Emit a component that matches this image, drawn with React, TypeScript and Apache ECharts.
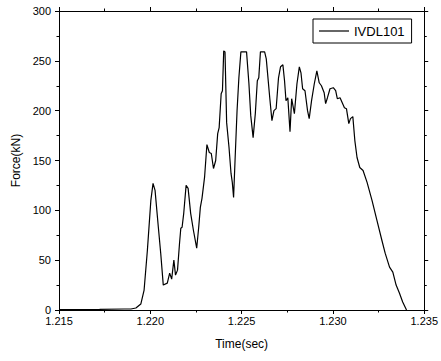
import React, { useEffect, useRef } from "react";
import * as echarts from "echarts";

const seriesName = "IVDL101";
const xTitle = "Time(sec)";
const yTitle = "Force(kN)";

const time = [
  1.215, 1.21722, 1.21858, 1.21894, 1.21921, 1.21948, 1.21966, 1.21984, 1.22003, 1.22015,
  1.22026, 1.22044, 1.22057, 1.22071, 1.22093, 1.22106, 1.22117, 1.22129, 1.22138, 1.22149,
  1.2216, 1.22167, 1.22174, 1.22183, 1.22196, 1.22207, 1.22221, 1.22236, 1.22254, 1.22265,
  1.22274, 1.22283, 1.22297, 1.2231, 1.22323, 1.22334, 1.22346, 1.22358, 1.22369, 1.22377,
  1.22388, 1.22395, 1.22402, 1.22409, 1.22418, 1.22431, 1.22442, 1.22449, 1.22456, 1.22464,
  1.22475, 1.22485, 1.22496, 1.22527, 1.2254, 1.2255, 1.22563, 1.22575, 1.22586, 1.22594,
  1.22603, 1.22626, 1.22635, 1.22654, 1.22666, 1.22677, 1.22689, 1.22702, 1.22713, 1.22726,
  1.22735, 1.22743, 1.22753, 1.22765, 1.22774, 1.22789, 1.22803, 1.22816, 1.22825, 1.22834,
  1.22847, 1.22861, 1.2287, 1.22883, 1.22898, 1.22912, 1.22925, 1.22937, 1.22952, 1.2296,
  1.2297, 1.22984, 1.23002, 1.23015, 1.23024, 1.23039, 1.23051, 1.23063, 1.23074, 1.23087,
  1.23096, 1.23109, 1.2312, 1.23132, 1.23147, 1.23165, 1.23187, 1.23214, 1.23241, 1.23268,
  1.23286, 1.2331, 1.23328, 1.23346, 1.23364, 1.23382, 1.23403,
];

const force = [
  0.5, 0.6, 1, 1, 2, 6, 20, 60, 110, 127,
  120, 83, 57, 25, 27, 37, 31, 50, 35, 40,
  67, 82, 83, 97, 125, 122, 97, 80, 62, 83,
  103, 112, 133, 166, 158, 157, 142, 150, 177, 183,
  217, 220, 260, 259, 188, 163, 137, 128, 113, 150,
  200, 233, 259, 259, 227, 195, 173, 197, 230, 233,
  259, 259, 252, 213, 190, 200, 202, 233, 244, 246,
  230, 210, 213, 179, 212, 197, 227, 244, 238, 222,
  220, 200, 192, 210, 227, 240, 228, 225, 218, 207,
  213, 222, 223, 220, 212, 213, 208, 203, 202, 187,
  192, 194, 170, 153, 143, 140, 128, 110, 90, 70,
  57, 43, 38, 25, 17, 8, 0,
];

const FONT = 'Arial, "Liberation Sans", sans-serif';

export default function App() {
  const ref = useRef<HTMLDivElement>(null);
  useEffect(() => {
    if (!ref.current) return;
    const chart = echarts.init(ref.current, null, { renderer: "svg" });
    const axisLine = { show: true, onZero: false, lineStyle: { color: "#000", width: 1 } };
    const tick = { show: true, inside: false, length: 4, lineStyle: { color: "#000", width: 1 } };
    const minor = { show: true, splitNumber: 2, length: 2.5, lineStyle: { color: "#000", width: 1 } };
    const xBase = { type: "value", min: 1.215, max: 1.235, interval: 0.005, splitLine: { show: false }, axisLine, axisTick: tick, minorTick: minor };
    const yBase = { type: "value", min: 0, max: 300, interval: 50, splitLine: { show: false }, axisLine, axisTick: tick, minorTick: minor };
    chart.setOption({
      animation: false,
      backgroundColor: "#fff",
      textStyle: { fontFamily: FONT },
      grid: { left: 59, right: 13, top: 11, bottom: 51 },
      legend: {
        show: true,
        left: 313,
        top: 19,
        padding: [5, 7, 5, 6],
        itemWidth: 30,
        itemHeight: 1.2,
        borderColor: "#000",
        borderWidth: 1,
        borderRadius: 0,
        textStyle: { color: "#000", fontSize: 13, fontFamily: FONT, lineHeight: 14 },
        data: [{ name: seriesName, icon: "rect" }],
      },
      xAxis: [
        {
          ...xBase,
          position: "bottom",
          name: xTitle,
          nameLocation: "middle",
          nameGap: 28,
          nameTextStyle: { color: "#000", fontSize: 12, fontFamily: FONT },
          axisLabel: { color: "#000", fontSize: 11, margin: 5, fontFamily: FONT, formatter: (v: number) => v.toFixed(3) },
        },
        { ...xBase, position: "top", axisLabel: { show: false } },
      ],
      yAxis: [
        {
          ...yBase,
          position: "left",
          name: yTitle,
          nameLocation: "middle",
          nameGap: 36,
          nameTextStyle: { color: "#000", fontSize: 12, fontFamily: FONT },
          axisLabel: { color: "#000", fontSize: 11, margin: 8, fontFamily: FONT },
        },
        { ...yBase, position: "right", axisLabel: { show: false } },
      ],
      series: [
        {
          name: seriesName,
          type: "line",
          xAxisIndex: 0,
          yAxisIndex: 0,
          symbol: "none",
          showSymbol: false,
          lineStyle: { color: "#000", width: 1.2 },
          itemStyle: { color: "#000" },
          data: time.map((t, i) => [t, force[i]]),
        },
      ],
    });
    return () => chart.dispose();
  }, []);
  return <div ref={ref} style={{ position: "fixed", left: 0, top: 0, width: 441, height: 361, background: "#fff" }} />;
}
